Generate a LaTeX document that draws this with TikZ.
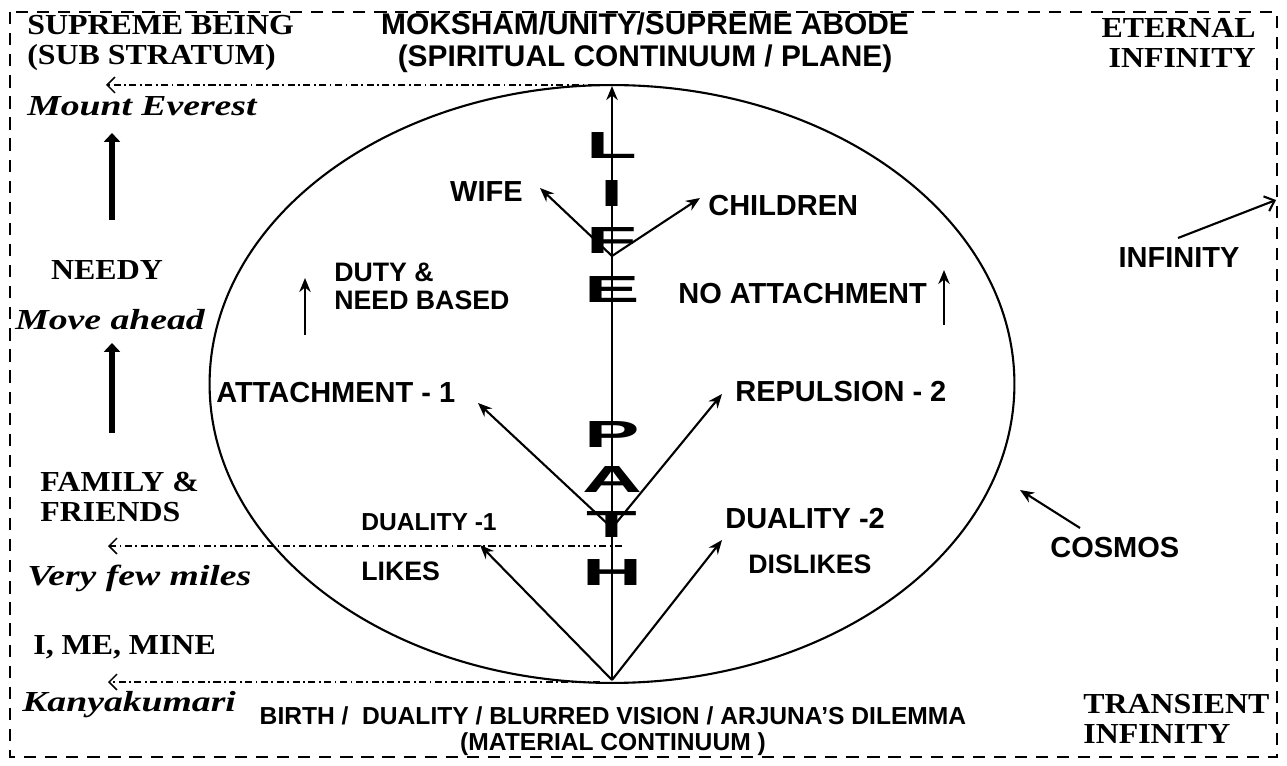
\documentclass[tikz,border=0pt]{standalone}
\usepackage{fontspec}
\setmainfont{Liberation Serif}
\setsansfont{Liberation Sans}
\newfontfamily\serifup[FakeStretch=1.1]{Liberation Serif}
\newfontfamily\serifit[FakeStretch=1.3]{Liberation Serif}
\newfontfamily\bigsans[FakeStretch=2.2]{Liberation Sans}
\usetikzlibrary{arrows.meta}
\newcommand{\PX}{612}
\newcommand{\RX}{8.05cm}
\newcommand{\RY}{5.98cm}

\begin{document}
\begin{tikzpicture}[
    x=0.02cm, y=-0.02cm,
    lbl/.style={inner sep=0pt, font=\sffamily\bfseries\fontsize{16.5}{19}\selectfont},
    lblS/.style={inner sep=0pt, font=\sffamily\bfseries\fontsize{15.2}{16}\selectfont},
    lblT/.style={inner sep=0pt, font=\sffamily\bfseries\fontsize{14}{14.7}\selectfont},
    head/.style={inner sep=0pt, font=\sffamily\bfseries\fontsize{17}{18}\selectfont},
    ser/.style={inner sep=0pt, font=\serifup\bfseries\fontsize{16.5}{17}\selectfont},
    serI/.style={inner sep=0pt, font=\serifit\bfseries\itshape\fontsize{16.5}{17}\selectfont},
    ltr/.style={inner sep=0pt, font=\bigsans\bfseries\fontsize{21.5}{22}\selectfont},
    arr/.style={line width=1.2pt, -{Stealth[length=8pt,width=6.5pt]}},
    thin/.style={line width=1.2pt},
    fatarr/.style={line width=3.8pt, -{Triangle[length=5pt,width=9pt]}},
    dd/.style={line width=0.9pt, dash pattern=on 4pt off 2pt on 1pt off 2pt,
               -{Straight Barb[length=4.5pt,width=9pt]}},
    frame/.style={line width=1.3pt, dash pattern=on 7pt off 5pt},
  ]
  \useasboundingbox (0,0) rectangle (1287,766);
  \draw[frame] (10,12) rectangle (1277,757);

  %% ================= cosmos and the life path =================
  \coordinate (cosmosC) at (\PX,384);
  \draw[thin] (cosmosC) ellipse [x radius=\RX, y radius=\RY];

  \node[ltr] (lL) at (\PX,146) {L};
  \node[ltr] (lI) at (\PX,194) {I};
  \node[ltr] (lF) at (\PX,241) {F};
  \node[ltr] (lE) at (\PX,290) {E};
  \node[ltr] (pP) at (\PX,435) {P};
  \node[ltr] (pA) at (\PX,480) {A};
  \node[ltr] (pT) at (\PX,525) {T};
  \node[ltr] (pH) at (\PX,573) {H};

  \coordinate (birth) at (\PX,680);
  \coordinate (moksha) at (\PX,86);
  \coordinate (forkU) at (\PX,256);
  \coordinate (forkL) at (\PX,528);
  \draw[arr] (birth) -- (moksha);

  % branches off the path
  \coordinate (wifeT) at (540,188);
  \coordinate (childT) at (700,198);
  \coordinate (attT) at (478,403);
  \coordinate (repT) at (722,394);
  \coordinate (likeT) at (480,545);
  \coordinate (dislT) at (722,540);
  \draw[arr] (forkU) -- (wifeT);
  \draw[arr] (forkU) -- (childT);
  \draw[arr] (forkL) -- (attT);
  \draw[arr] (forkL) -- (repT);
  \draw[arr] (birth) -- (likeT);
  \draw[arr] (birth) -- (dislT);

  % labels inside the cosmos
  \node[lbl, anchor=east] (wife) at (523,192) {WIFE};
  \node[lbl, anchor=west] (child) at (708,206) {CHILDREN};
  \node[lblS, anchor=west, align=left] (duty) at (334,286) {DUTY \&\\NEED BASED};
  \node[lbl, anchor=west] (noatt) at (678,294) {NO ATTACHMENT};
  \node[lbl, anchor=west] (att) at (216,393) {ATTACHMENT - 1};
  \node[lbl, anchor=west] (rep) at (735,392) {REPULSION - 2};
  \node[lblT, anchor=west] (dual1) at (361,522) {DUALITY -1};
  \node[lblS, anchor=west] (likes) at (361,571) {LIKES};
  \node[lbl, anchor=west] (dual2) at (725,519) {DUALITY -2};
  \node[lblS, anchor=west] (dislikes) at (748,564) {DISLIKES};

  \coordinate (dutyB) at (305,335);
  \coordinate (dutyT) at (305,278);
  \coordinate (noattB) at (944,325);
  \coordinate (noattT) at (944,270);
  \draw[arr] (dutyB) -- (dutyT);
  \draw[arr] (noattB) -- (noattT);

  %% ================= top and bottom planes =================
  \node[head, align=center] (top) at (645,43)
       {MOKSHAM/UNITY/SUPREME ABODE\\(SPIRITUAL CONTINUUM / PLANE)};
  \node[lblT, align=center] (bottom) at (613,731)
       {BIRTH /\ \ DUALITY / BLURRED VISION / ARJUNA’S DILEMMA\\(MATERIAL CONTINUUM )};

  %% ================= left column: the journey =================
  \node[ser, anchor=west, align=left] (supreme) at (27,43) {SUPREME BEING\\(SUB STRATUM)};
  \node[serI, anchor=west] (everest) at (27,106) {Mount Everest};
  \node[ser] (needy) at (107,270) {NEEDY};
  \node[serI, anchor=west] (move) at (15,320) {Move ahead};
  \node[ser, anchor=west, align=left] (family) at (40,497) {FAMILY \&\\FRIENDS};
  \node[serI, anchor=west] (miles) at (27,578) {Very few miles};
  \node[ser, anchor=west] (mine) at (33,647) {I, ME, MINE};
  \node[serI, anchor=west] (kanya) at (22,705) {Kanyakumari};

  \coordinate (up1B) at (112,220);
  \coordinate (up1T) at (112,133);
  \coordinate (up2B) at (112,433);
  \coordinate (up2T) at (112,343);
  \draw[fatarr] (up1B) -- (up1T);
  \draw[fatarr] (up2B) -- (up2T);

  % levels projected to the left
  \coordinate (ddTopS) at (595,85);
  \coordinate (ddTopE) at (106,85);
  \coordinate (ddMidS) at (622,546);
  \coordinate (ddMidE) at (108,546);
  \coordinate (ddBotS) at (600,682);
  \coordinate (ddBotE) at (108,682);
  \draw[dd] (ddTopS) -- (ddTopE);
  \draw[dd] (ddMidS) -- (ddMidE);
  \draw[dd] (ddBotS) -- (ddBotE);

  %% ================= right column =================
  \node[ser, anchor=east, align=right] (eternal) at (1256,43) {ETERNAL\\INFINITY};
  \node[lbl] (infty) at (1179,258) {INFINITY};
  \node[lbl, anchor=west] (cosmos) at (1050,548) {COSMOS};
  \node[ser, anchor=west, align=left] (transient) at (1083,719) {TRANSIENT\\INFINITY};

  \coordinate (inftyS) at (1178,238);
  \coordinate (inftyT) at (1276,200);
  \coordinate (cosmosS) at (1080,528);
  \coordinate (cosmosT) at (1020,490);
  \draw[line width=1.2pt, -{Straight Barb[length=5pt,width=9pt]}] (inftyS) -- (inftyT);
  \draw[arr] (cosmosS) -- (cosmosT);

\end{tikzpicture}
\end{document}
